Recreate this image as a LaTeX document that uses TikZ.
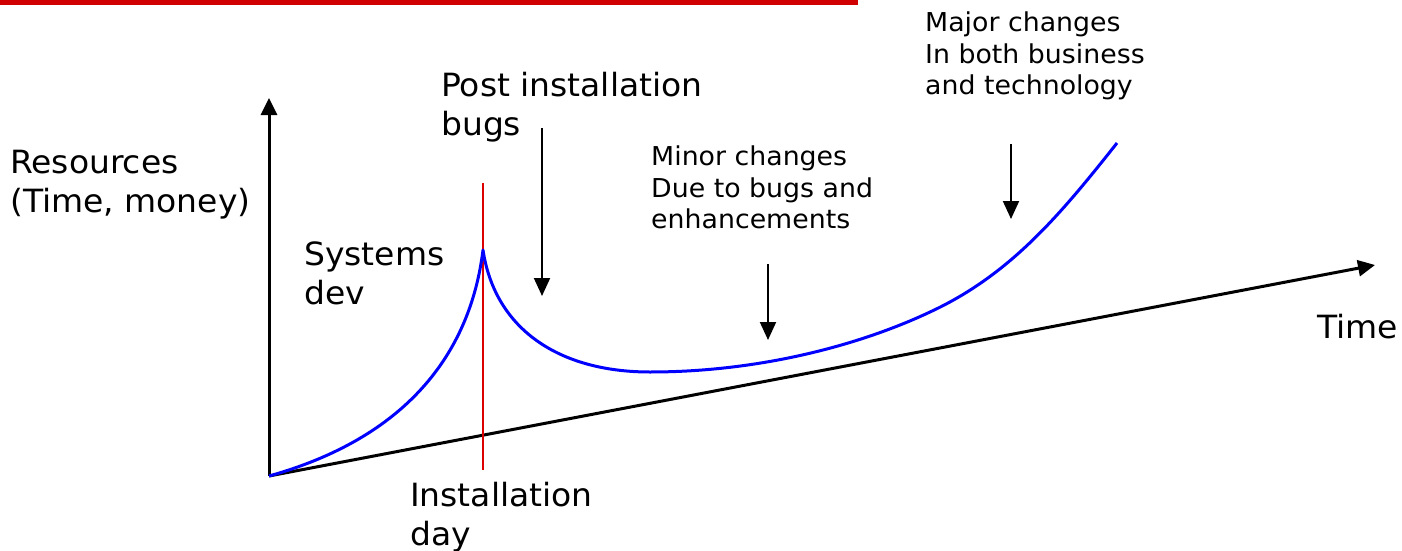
\documentclass[tikz,border=0pt]{standalone}
\usepackage{fontspec}
\setmainfont{DejaVu Sans}[FakeStretch=1.03]
\usetikzlibrary{arrows.meta}
\definecolor{barred}{RGB}{208,0,0}
\definecolor{curveblue}{RGB}{0,0,255}
\definecolor{markred}{RGB}{220,0,0}
\tikzset{
  biglabel/.style={anchor=north west, inner sep=0pt, align=left,
    font=\fontsize{32}{39}\selectfont},
  smalllabel/.style={anchor=north west, inner sep=0pt, align=left,
    font=\fontsize{26}{31.5}\selectfont},
  axisline/.style={line width=3pt, -{Triangle[length=17pt,width=16pt]}},
  pointer/.style={line width=2pt, -{Triangle[length=18pt,width=16pt]}},
}
\begin{document}
\begin{tikzpicture}[x=1pt,y=-1pt]
  \useasboundingbox (0,0) rectangle (1402,551);
  % title rule
  \fill[barred] (0,0) rectangle (858,5);

  % axes
  \coordinate (O) at (269,476);
  \coordinate (ytop) at (269,98);
  \coordinate (xend) at (1375,265);
  \draw[axisline] (O) -- (ytop);
  \draw[axisline] (O) -- (xend);

  % installation day marker
  \coordinate (instTop) at (483,183);
  \coordinate (instBot) at (483,470);
  \draw[markred, line width=2.4pt] (instTop) -- (instBot);

  % resource curve
  \coordinate (peak) at (483,250);
  \coordinate (low) at (650,372);
  \coordinate (mid) at (930,312);
  \coordinate (last) at (1117,143);
  \draw[curveblue, line width=3pt, line join=round]
    (O) .. controls (405,438) and (470,355) .. (peak)
        .. controls (495,330) and (560,372) .. (low)
        .. controls (760,372) and (860,345) .. (mid)
        .. controls (1010,275) and (1060,215) .. (last);

  % pointers
  \coordinate (p1s) at (542,128);
  \coordinate (p1e) at (542,296);
  \coordinate (p2s) at (768,264);
  \coordinate (p2e) at (768,340);
  \coordinate (p3s) at (1011,144);
  \coordinate (p3e) at (1011,219);
  \draw[pointer] (p1s) -- (p1e);
  \draw[pointer] (p2s) -- (p2e);
  \draw[pointer] (p3s) -- (p3e);

  % labels
  \node[biglabel] (res) at (10,150) {Resources\\(Time, money)};
  \node[biglabel] (post) at (441,72) {Post installation\\bugs};
  \node[biglabel] (sys) at (304,242) {Systems\\dev};
  \node[biglabel] (inst) at (410,482) {Installation\\day};
  \node[biglabel] (time) at (1317,314) {Time};
  \node[smalllabel] (major) at (925,12) {Major changes\\In both business\\and technology};
  \node[smalllabel] (minor) at (651,146) {Minor changes\\Due to bugs and\\enhancements};
\end{tikzpicture}
\end{document}
